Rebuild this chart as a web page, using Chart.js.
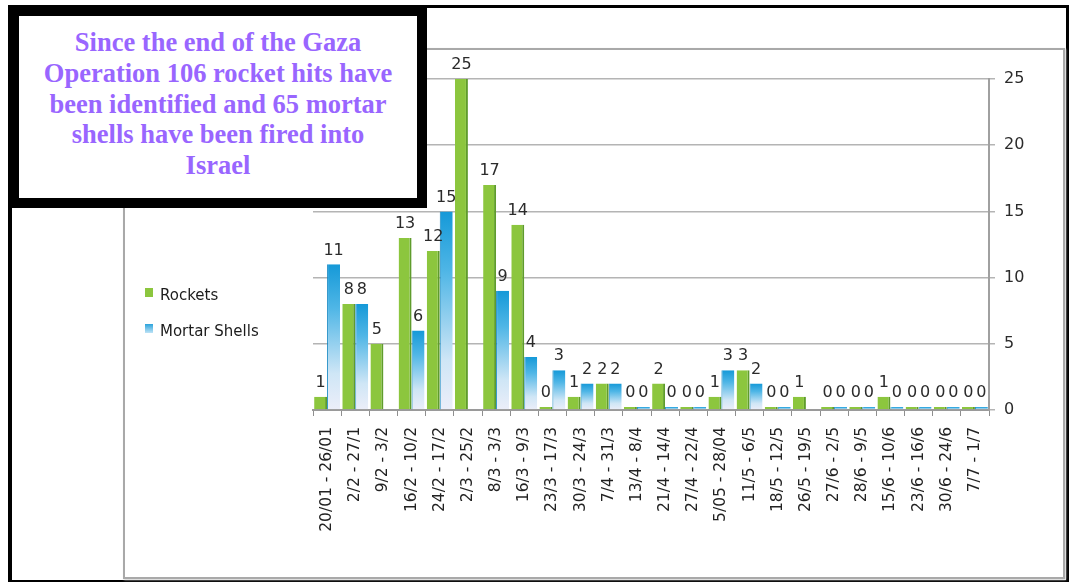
<!DOCTYPE html>
<html>
<head>
<meta charset="utf-8">
<script src="https://cdn.jsdelivr.net/npm/chart.js@4.4.1/dist/chart.umd.min.js"></script>
<style>
  html, body { margin: 0; padding: 0; background: #fff; }
  #page { position: relative; width: 1069px; height: 583px; overflow: hidden; background: #fff; }
  #frame { position: absolute; left: 8px; top: 5px; width: 1054px; height: 572px;
    border-style: solid; border-color: #000; border-width: 3px 3px 2px 4px; }
  #plotBox { position: absolute; left: 123px; top: 48px; width: 938px; height: 527px;
    border: 2px solid #a9a9a9; box-shadow: 1px 1px 2px #d0d0d0; }
  #chart { position: absolute; left: 0; top: 0; }
  #note { position: absolute; left: 8px; top: 5px; width: 398px; height: 171px;
    border-style: solid; border-color: #000; border-width: 11px 10px 10px 11px;
    background: #fff; padding-top: 11px; text-align: center; white-space: nowrap;
    font: bold 26.5px "Liberation Serif", "Times New Roman", serif; line-height: 30.75px;
    color: #9966ff; z-index: 3; }
  .legend { position: absolute; left: 145px; font: 15px "DejaVu Sans", sans-serif; color: #1c1c1c; z-index: 2; }
  .legend i { position: absolute; left: 0; width: 8px; height: 9px; }
  .legend span { position: absolute; left: 15px; top: -9px; white-space: nowrap; }
</style>
</head>
<body>
<div id="page">
  <div id="frame"></div>
  <div id="plotBox"></div>
  <canvas id="chart" width="1069" height="583"></canvas>
  <div class="legend" style="top:295px"><i style="top:-7px;background:#8cc63e"></i><span>Rockets</span></div>
  <div class="legend" style="top:331px"><i style="top:-7px;background:linear-gradient(#2aa3dc,#bfe3f6)"></i><span>Mortar Shells</span></div>
  <div id="note">Since the end of the Gaza<br>Operation 106 rocket hits have<br>been identified and 65 mortar<br>shells have been fired into<br>Israel</div>
</div>
<script>
// weekly ranges, as printed under the bars
const weeks = [
  '20/01 - 26/01', '2/2 - 27/1', '9/2 - 3/2', '16/2 - 10/2', '24/2 - 17/2', '2/3 - 25/2',
  '8/3 - 3/3', '16/3 - 9/3', '23/3 - 17/3', '30/3 - 24/3', '7/4 - 31/3', '13/4 - 8/4',
  '21/4 - 14/4', '27/4 - 22/4', '5/05 - 28/04', '11/5 - 6/5', '18/5 - 12/5', '26/5 - 19/5',
  '27/6 - 2/5', '28/6 - 9/5', '15/6 - 10/6', '23/6 - 16/6', '30/6 - 24/6', '7/7 - 1/7',
];
const rockets = [1, 8, 5, 13, 12, 25, 17, 14, 0, 1, 2, 0, 2, 0, 1, 3, 0, 1, 0, 0, 1, 0, 0, 0];
// null = no mortar bar / label in the source
const mortars = [11, 8, null, 6, 15, null, 9, 4, 3, 2, 2, 0, 0, 0, 3, 2, 0, null, 0, 0, 0, 0, 0, 0];
const yTicks = [0, 5, 10, 15, 20, 25];

const font = 'DejaVu Sans';

function mortarFill(c) {
  const chart = c.chart;
  if (!chart.chartArea || c.raw == null) return '#2aa3dc';
  const y = chart.scales.y;
  const bottom = y.getPixelForValue(0);
  const top = Math.min(y.getPixelForValue(c.raw), bottom - 3);
  const g = chart.ctx.createLinearGradient(0, top, 0, bottom);
  g.addColorStop(0, '#1599d8');
  g.addColorStop(0.3, '#4fb6e6');
  g.addColorStop(0.75, '#cfe6f6');
  g.addColorStop(1, '#eceef9');
  return g;
}

// numbers above every bar that has a value
const barValues = {
  id: 'barValues',
  afterDatasetsDraw(chart) {
    const ctx = chart.ctx;
    ctx.save();
    ctx.font = `16px "${font}"`;
    ctx.fillStyle = '#2b2b2b';
    ctx.textAlign = 'center';
    ctx.textBaseline = 'bottom';
    chart.data.datasets.forEach((ds, i) => {
      chart.getDatasetMeta(i).data.forEach((bar, j) => {
        const v = ds.data[j];
        if (v == null) return;
        ctx.fillText(String(v), bar.x, bar.y - 6);
      });
    });
    ctx.restore();
  },
};

new Chart(document.getElementById('chart'), {
  type: 'bar',
  data: {
    labels: weeks,
    datasets: [
      {
        label: 'Rockets', data: rockets,
        backgroundColor: '#8cc63e', borderColor: '#5f9c2c',
        borderWidth: { left: 0, right: 2, top: 0, bottom: 0 },
        minBarLength: 3,
      },
      {
        label: 'Mortar Shells', data: mortars,
        backgroundColor: mortarFill, borderColor: '#1487c2',
        borderWidth: { left: 1, right: 0, top: 0, bottom: 0 },
        minBarLength: 3,
      },
    ],
  },
  options: {
    responsive: false, animation: false,
    layout: { padding: { left: 313, right: 35, top: 79, bottom: 0 } },
    datasets: { bar: { categoryPercentage: 0.92, barPercentage: 1 } },
    plugins: { legend: { display: false }, tooltip: { enabled: false } },
    scales: {
      x: {
        grid: { display: true, drawOnChartArea: false, offset: true, tickLength: 6, color: '#8f8f8f' },
        border: { display: true, color: '#9a9a9a', width: 2 },
        ticks: { minRotation: 90, maxRotation: 90, autoSkip: false, padding: 11, color: '#222',
          font: { family: font, size: 15.5 } },
        afterFit(s) { s.height = 173; },
      },
      y: {
        position: 'right', min: yTicks[0], max: yTicks[yTicks.length - 1],
        afterBuildTicks(s) { s.ticks = yTicks.map((v) => ({ value: v })); },
        grid: { color: '#b4b4b4', lineWidth: 1.5, tickLength: 6 },
        border: { display: true, color: '#a0a0a0', width: 2 },
        ticks: { padding: 9, color: '#2b2b2b', font: { family: font, size: 16 } },
        afterFit(s) { s.width = 45; },
      },
    },
  },
  plugins: [barValues],
});
</script>
</body>
</html>
